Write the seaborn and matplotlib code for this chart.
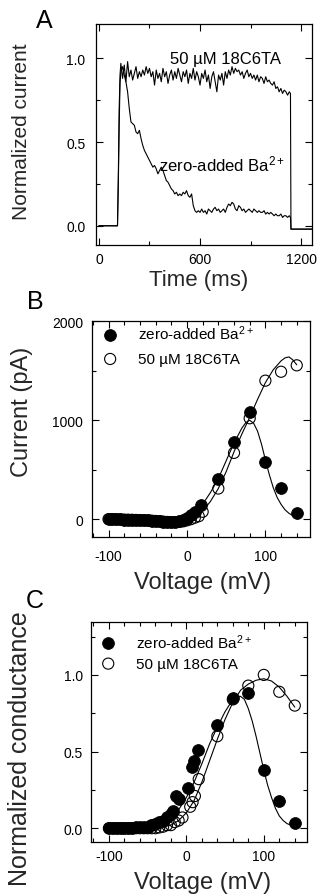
import matplotlib
matplotlib.use("Agg")
import matplotlib.pyplot as plt
from matplotlib.ticker import MultipleLocator, FormatStrFormatter
import seaborn as sns

# ---------------- Panel A: normalized current traces ----------------
time_ms = [0, 110, 115, 120, 125] + list(range(130, 1131, 10)) + [1137, 1140, 1265]

ba_trace = ([0.0, 0.0, 0.25, 0.60, 0.85] +
            [0.92, 0.95, 0.90, 0.86, 0.80, 0.70, 0.62, 0.61, 0.60, 0.56,
             0.55, 0.57, 0.52, 0.48, 0.45, 0.43, 0.41, 0.39, 0.37, 0.35,
             0.36, 0.34, 0.31, 0.33, 0.35, 0.33, 0.30, 0.27, 0.26, 0.24,
             0.22, 0.21, 0.19, 0.20, 0.18, 0.19, 0.18, 0.20, 0.19, 0.21,
             0.18, 0.17, 0.19, 0.12, 0.09, 0.08, 0.09, 0.08, 0.10, 0.08,
             0.09, 0.07, 0.10, 0.09, 0.08, 0.10, 0.11, 0.09, 0.10, 0.08,
             0.09, 0.10, 0.08, 0.11, 0.13, 0.12, 0.14, 0.13, 0.10, 0.09,
             0.12, 0.11, 0.09, 0.10, 0.08, 0.09, 0.10, 0.09, 0.08, 0.10,
             0.09, 0.08, 0.09, 0.08, 0.08, 0.09, 0.07, 0.08, 0.07, 0.08,
             0.07, 0.06, 0.07, 0.06, 0.06, 0.07, 0.05, 0.06, 0.06, 0.05,
             0.06] +
            [0.05, -0.02, -0.02])

tta_trace = ([0.0, 0.0, 0.30, 0.70, 0.90] +
             [0.97, 0.88, 0.96, 0.86, 0.98, 0.89, 0.93, 0.87, 0.91, 0.95,
              0.88, 0.92, 0.89, 0.93, 0.90, 0.95, 0.91, 0.94, 0.89, 0.92,
              0.84, 0.93, 0.88, 0.91, 0.86, 0.94, 0.89, 0.92, 0.85, 0.90,
              0.93, 0.87, 0.92, 0.88, 0.94, 0.90, 0.86, 0.92, 0.89, 0.93,
              0.85, 0.91, 0.88, 0.94, 0.87, 0.92, 0.89, 0.84, 0.91, 0.88,
              0.93, 0.86, 0.90, 0.82, 0.89, 0.92, 0.86, 0.80, 0.90, 0.87,
              0.91, 0.84, 0.92, 0.88, 0.93, 0.90, 0.95, 0.91, 0.94, 0.92,
              0.93, 0.90, 0.92, 0.88, 0.91, 0.93, 0.89, 0.91, 0.88, 0.90,
              0.87, 0.90, 0.86, 0.89, 0.88, 0.85, 0.89, 0.86, 0.87, 0.85,
              0.84, 0.86, 0.82, 0.83, 0.80, 0.82, 0.79, 0.81, 0.80, 0.78,
              0.80] +
             [0.79, -0.02, -0.02])

# ---------------- Panel B: I-V ----------------
iv_ba_v = [-100, -95, -90, -85, -80, -75, -70, -65, -60, -55, -50, -45, -40,
           -35, -30, -25, -20, -15, -10, -5, 0, 5, 10, 18, 40, 60, 80, 100, 120, 140]
iv_ba_i = [0, 0, -2, -3, -4, -5, -6, -8, -9, -11, -13, -15, -18,
           -21, -25, -28, -30, -29, -20, -5, 15, 40, 75, 145, 410, 780, 1080, 580, 320, 60]

iv_tta_v = [-100, -95, -90, -85, -80, -75, -70, -65, -60, -55, -50, -45, -40,
            -35, -30, -25, -20, -15, -10, -5, 0, 5, 10, 15, 20, 40, 60, 80, 100, 120, 140]
iv_tta_i = [0, 0, -2, -3, -4, -5, -6, -8, -9, -11, -13, -15, -18,
            -21, -25, -28, -30, -30, -28, -22, -12, 0, 15, 30, 75, 310, 670, 1020, 1400, 1490, 1555]

fit_iv_ba_v = [-100, -80, -60, -40, -20, -10, 0, 10, 20, 30, 40, 50, 60, 70, 75, 80,
               85, 90, 95, 100, 105, 110, 115, 120, 125, 130, 135, 140]
fit_iv_ba_i = [0, -5, -10, -20, -30, -20, 5, 50, 150, 270, 410, 590, 770, 920, 975, 1000,
               970, 890, 760, 600, 450, 320, 220, 150, 95, 60, 35, 20]

fit_iv_tta_v = [-100, -80, -60, -40, -20, -10, 0, 10, 20, 30, 40, 50, 60, 70, 80, 90,
                100, 110, 120, 125, 130, 135, 140]
fit_iv_tta_i = [0, -5, -10, -20, -30, -25, -10, 10, 80, 180, 310, 480, 680, 860, 1030, 1210,
                1380, 1510, 1600, 1630, 1640, 1610, 1560]

# ---------------- Panel C: G-V ----------------
gv_ba_v = [-100, -95, -90, -85, -80, -75, -70, -65, -60, -55, -50, -45, -40, -35,
           -30, -25, -20, -17, -13, -9, 2, 7, 10, 15, 40, 60, 80, 100, 120, 140]
gv_ba_g = [0.0, 0.0, 0.0, 0.0, 0.0, 0.0, 0.0, 0.005, 0.005, 0.01, 0.01, 0.02, 0.03, 0.04,
           0.05, 0.07, 0.09, 0.11, 0.21, 0.19, 0.26, 0.40, 0.44, 0.51, 0.67, 0.85, 0.88, 0.38, 0.18, 0.035]

gv_tta_v = [-100, -95, -90, -85, -80, -75, -70, -65, -60, -55, -50, -45, -40, -35,
            -30, -25, -20, -15, -10, -5, 5, 8, 11, 16, 40, 60, 80, 100, 120, 140]
gv_tta_g = [0.0, 0.0, 0.0, 0.0, 0.0, 0.0, 0.0, 0.0, 0.0, 0.0, 0.0, 0.0, 0.0, 0.005,
            0.01, 0.02, 0.02, 0.04, 0.05, 0.07, 0.14, 0.17, 0.21, 0.32, 0.60, 0.84, 0.93, 1.0, 0.89, 0.80]

fit_gv_ba_v = [-100, -60, -40, -20, -10, 0, 10, 20, 30, 40, 50, 60, 65, 70, 75, 80,
               85, 90, 95, 100, 105, 110, 115, 120, 125, 130, 140]
fit_gv_ba_g = [0.0, 0.005, 0.02, 0.07, 0.12, 0.20, 0.30, 0.42, 0.55, 0.66, 0.76, 0.84, 0.86, 0.86, 0.84, 0.78,
               0.70, 0.60, 0.49, 0.38, 0.28, 0.20, 0.13, 0.08, 0.05, 0.03, 0.01]

fit_gv_tta_v = [-100, -40, -20, -10, 0, 10, 20, 30, 40, 50, 60, 70, 80, 90, 100, 110, 120, 130, 140]
fit_gv_tta_g = [0.0, 0.005, 0.02, 0.05, 0.10, 0.18, 0.30, 0.44, 0.58, 0.71, 0.82, 0.90, 0.94, 0.965,
                0.975, 0.96, 0.92, 0.86, 0.79]

label_ba = "zero-added Ba$^{2+}$"
label_tta = "50 \u00b5M 18C6TA"

sns.set_theme(style="ticks")
plt.rcParams["font.family"] = ["Liberation Sans", "DejaVu Sans"]
plt.rcParams["mathtext.fontset"] = "custom"
plt.rcParams["mathtext.rm"] = "Liberation Sans"
plt.rcParams["mathtext.default"] = "regular"
plt.rcParams["axes.unicode_minus"] = False
plt.rcParams["axes.edgecolor"] = "black"
plt.rcParams["text.color"] = "black"
plt.rcParams["xtick.color"] = "black"
plt.rcParams["ytick.color"] = "black"

fig = plt.figure(figsize=(3.23, 8.95), dpi=100)
axA = fig.add_axes([0.297, 0.7251, 0.669, 0.247])
axB = fig.add_axes([0.285, 0.3989, 0.675, 0.241])
axC = fig.add_axes([0.282, 0.0581, 0.669, 0.2458])


def style_axes(ax, xmaj, xmin, ymaj, ymin, xpad, ypad, yfmt=None):
    ax.xaxis.set_major_locator(MultipleLocator(xmaj))
    ax.xaxis.set_minor_locator(MultipleLocator(xmin))
    ax.yaxis.set_major_locator(MultipleLocator(ymaj))
    ax.yaxis.set_minor_locator(MultipleLocator(ymin))
    if yfmt:
        ax.yaxis.set_major_formatter(FormatStrFormatter(yfmt))
    ax.tick_params(which="both", direction="in", top=True, right=True, width=0.8)
    ax.tick_params(which="major", length=5, labelsize=10)
    ax.tick_params(which="minor", length=3)
    ax.tick_params(axis="x", which="both", pad=xpad)
    ax.tick_params(axis="y", which="both", pad=ypad)
    for s in ax.spines.values():
        s.set_linewidth(0.9)
        s.set_color("black")


# --- A ---
sns.lineplot(x=time_ms, y=ba_trace, ax=axA, color="black", lw=0.8, estimator=None, sort=False)
sns.lineplot(x=time_ms, y=tta_trace, ax=axA, color="black", lw=0.8, estimator=None, sort=False)
axA.set_xlim(-18, 1265)
axA.set_ylim(-0.115, 1.205)
style_axes(axA, 600, 300, 0.5, 0.25, 5, 7.5, "%.1f")
axA.text(754, 1.0, label_tta, fontsize=12, ha="center", va="center")
axA.text(731, 0.37, label_ba, fontsize=12, ha="center", va="center")
axA.set_xlabel("Time (ms)", fontsize=16, va="center")
axA.set_ylabel("Normalized current", fontsize=15, va="center")
axA.xaxis.set_label_coords(0.475, -0.155)
axA.yaxis.set_label_coords(-0.343, 0.516)

# --- B ---
sns.lineplot(x=fit_iv_tta_v, y=fit_iv_tta_i, ax=axB, color="black", lw=0.8, estimator=None, sort=False)
sns.lineplot(x=fit_iv_ba_v, y=fit_iv_ba_i, ax=axB, color="black", lw=0.8, estimator=None, sort=False)
sns.scatterplot(x=iv_ba_v, y=iv_ba_i, ax=axB, s=72, color="black", edgecolor="black",
                linewidth=0.6, label=label_ba, zorder=4)
sns.scatterplot(x=iv_tta_v, y=iv_tta_i, ax=axB, s=64, facecolor="none", edgecolor="black",
                linewidth=0.8, label=label_tta, zorder=3)
axB.set_xlim(-121, 157)
axB.set_ylim(-180, 2000)
style_axes(axB, 100, 20, 1000, 500, 8.5, 6.5)
axB.legend(loc="upper left", bbox_to_anchor=(0.048, 0.99), frameon=False, fontsize=11,
           handlelength=1.0, handletextpad=1.33, labelspacing=0.65, borderpad=0,
           borderaxespad=0)
axB.set_xlabel("Voltage (mV)", fontsize=17, va="center")
axB.set_ylabel("Current (pA)", fontsize=17, va="center")
axB.xaxis.set_label_coords(0.507, -0.208)
axB.yaxis.set_label_coords(-0.321, 0.583)

# --- C ---
sns.lineplot(x=fit_gv_tta_v, y=fit_gv_tta_g, ax=axC, color="black", lw=0.8, estimator=None, sort=False)
sns.lineplot(x=fit_gv_ba_v, y=fit_gv_ba_g, ax=axC, color="black", lw=0.8, estimator=None, sort=False)
sns.scatterplot(x=gv_ba_v, y=gv_ba_g, ax=axC, s=72, color="black", edgecolor="black",
                linewidth=0.6, label=label_ba, zorder=4)
sns.scatterplot(x=gv_tta_v, y=gv_tta_g, ax=axC, s=64, facecolor="none", edgecolor="black",
                linewidth=0.8, label=label_tta, zorder=3)
axC.set_xlim(-123, 156)
axC.set_ylim(-0.09, 1.345)
style_axes(axC, 100, 20, 0.5, 0.25, 5, 6, "%.1f")
axC.legend(loc="upper left", bbox_to_anchor=(0.044, 0.955), frameon=False, fontsize=11,
           handlelength=1.0, handletextpad=1.33, labelspacing=0.4, borderpad=0,
           borderaxespad=0)
axC.set_xlabel("Voltage (mV)", fontsize=17, va="center")
axC.set_ylabel("Normalized conductance", fontsize=18, va="center")
axC.xaxis.set_label_coords(0.516, -0.182)
axC.yaxis.set_label_coords(-0.329, 0.427)

# panel letters
fig.text(44 / 323, 1 - 21 / 895, "A", fontsize=18, ha="center", va="center")
fig.text(35 / 323, 1 - 302 / 895, "B", fontsize=18, ha="center", va="center")
fig.text(35 / 323, 1 - 601 / 895, "C", fontsize=18, ha="center", va="center")

fig.savefig("out.png", dpi=100)
